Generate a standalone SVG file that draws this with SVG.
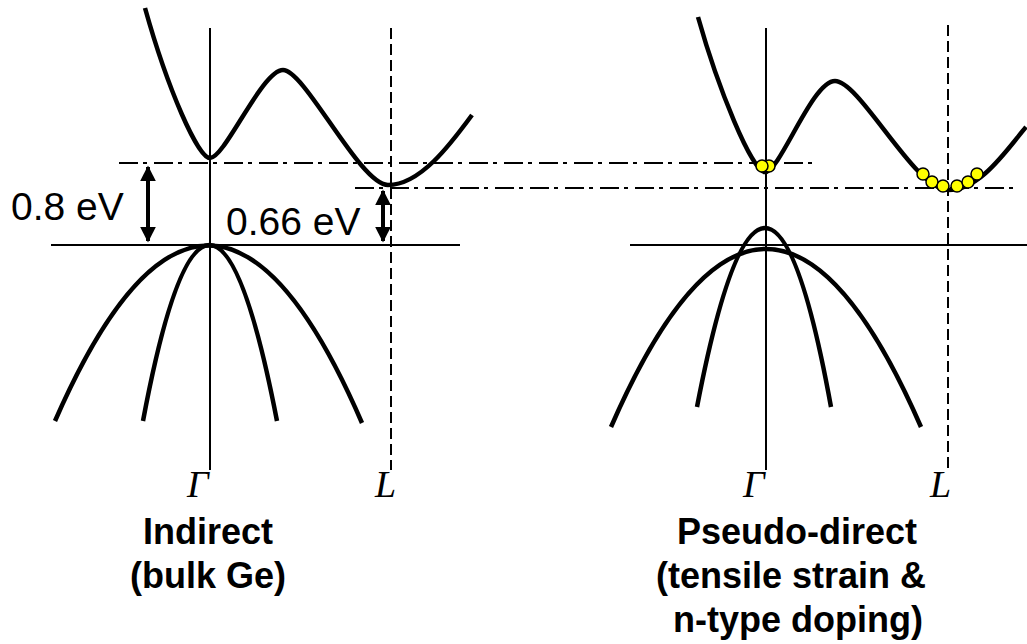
<svg xmlns="http://www.w3.org/2000/svg" width="1027" height="644" viewBox="0 0 1027 644">
<style>
.band{fill:none;stroke:#000;stroke-width:4.5;stroke-linecap:butt}
.axis{fill:none;stroke:#000;stroke-width:2}
.dash{fill:none;stroke:#000;stroke-width:2;stroke-dasharray:11 5}
.dd{fill:none;stroke:#000;stroke-width:2;stroke-dasharray:19 5 4 7}
.arr{fill:none;stroke:#000;stroke-width:4;marker-start:url(#ah);marker-end:url(#ah)}
.e{fill:#FFFF00;stroke:#000;stroke-width:1.5}
.val{font-family:"Liberation Sans",Arial,sans-serif;font-size:39px;fill:#000}
.k{font-family:"Liberation Serif","Times New Roman",serif;font-style:italic;font-size:38px;fill:#000}
.cap{font-family:"Liberation Sans",Arial,sans-serif;font-weight:bold;font-size:36px;fill:#000;text-anchor:middle}
</style>
<defs>
<marker id="ah" viewBox="0 0 10 10" refX="9" refY="5" markerWidth="4" markerHeight="4" orient="auto-start-reverse" markerUnits="strokeWidth">
<path d="M0,0 L10,5 L0,10 Z" fill="#000"/>
</marker>
</defs>
<rect width="1027" height="644" fill="#fff"/>
<g id="reference-lines">
<path class="dd" d="M119,163 H817"/>
<path class="dd" d="M355,188 H1018"/>
</g>
<g id="left-diagram">
<path class="axis" d="M210,28 V470"/>
<path class="dash" d="M391,28 V470"/>
<path class="axis" d="M51,245 H460"/>
<path id="left-cb" class="band" d="M145,8 C168,90 198,158 210,158 C225,158 262,70 283,70 C305,70 360,185 388,185 C420,185 450,145 472,115"/>
<path id="left-hh" class="band" d="M55,421 Q209,69 362,423"/>
<path id="left-lh" class="band" d="M143,421 Q209,69 277,421"/>
<path id="arrow-08" class="arr" d="M148,167 V241"/>
<path id="arrow-066" class="arr" d="M383,191 V241"/>
<text class="val" x="11" y="220">0.8 eV</text>
<text class="val" x="226" y="235">0.66 eV</text>
<text class="k" x="187" y="497">Γ</text>
<text class="k" x="375" y="497">L</text>
<text class="cap" x="208" y="544">Indirect</text>
<text class="cap" x="208" y="588">(bulk Ge)</text>
</g>
<g id="right-diagram">
<path class="axis" d="M766,28 V470"/>
<path class="dash" d="M948,25 V470"/>
<path class="axis" d="M630,245 H1027"/>
<path id="right-cb" class="band" d="M698,17 C718,88 752,172 765,172 C780,172 812,81 835,81 C860,81 915,190 948,190 C980,190 1005,152 1026,127"/>
<path id="right-hh" class="band" d="M611,427 Q766,71 921,427"/>
<path id="right-lh" class="band" d="M697,407 Q766,49 831,407"/>
<g id="electrons">
<circle class="e" cx="769" cy="166" r="6"/>
<circle class="e" cx="762" cy="166" r="6"/>
<circle class="e" cx="923" cy="174" r="6"/>
<circle class="e" cx="932" cy="182" r="6"/>
<circle class="e" cx="943" cy="186" r="6"/>
<circle class="e" cx="957" cy="186" r="6"/>
<circle class="e" cx="968" cy="182" r="6"/>
<circle class="e" cx="977" cy="174" r="6"/>
</g>
<text class="k" x="743" y="497">Γ</text>
<text class="k" x="930" y="497">L</text>
<text class="cap" x="797" y="544">Pseudo-direct</text>
<text class="cap" x="791" y="588">(tensile strain &amp;</text>
<text class="cap" x="798" y="632">n-type doping)</text>
</g>
</svg>
